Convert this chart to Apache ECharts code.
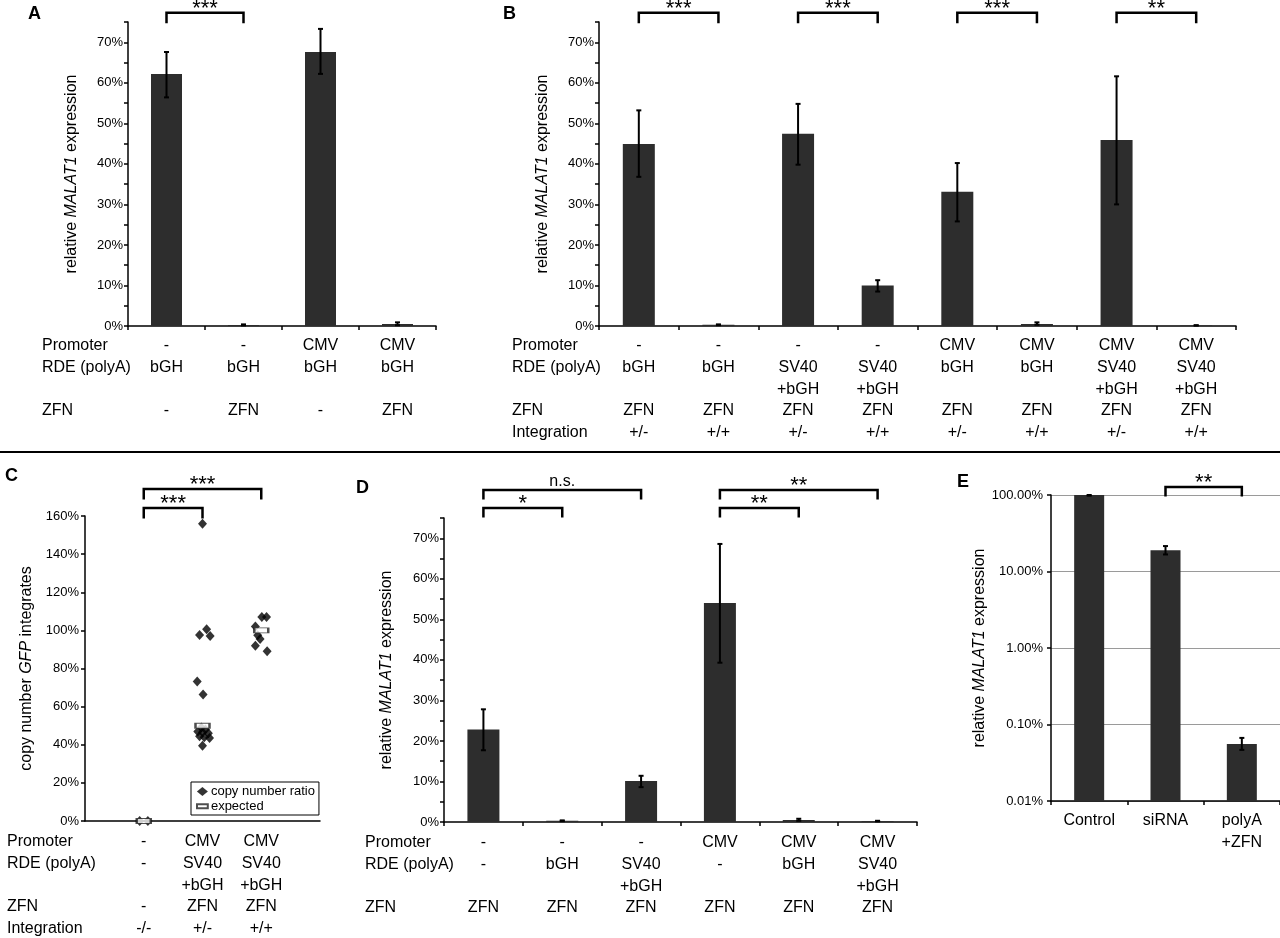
<!DOCTYPE html>
<html>
<head>
<meta charset="utf-8">
<title>MALAT1 polyA + ZFN</title>
<script src="https://cdn.jsdelivr.net/npm/echarts@6/dist/echarts.min.js"></script>
<style>
    html, body { margin: 0; padding: 0; background: #fff; }
    #main { width: 1280px; height: 938px; }
</style>
</head>
<body>
<div id="main"></div>
<script>
var FONT = 'Liberation Sans, Arial, sans-serif';
var BAR = '#2d2d2d';
var LH = 21.7; // table row height

// ---- panel A ----
var promoterA = ['-', '-', 'CMV', 'CMV'];
var rdeA = ['bGH', 'bGH', 'bGH', 'bGH'];
var zfnA = ['-', 'ZFN', '-', 'ZFN'];
var valueA = [62.2, 0.25, 67.6, 0.5];
var errLowA = [56.4, 0.15, 62.2, 0.2];
var errHighA = [67.6, 0.4, 73.3, 0.9];
var sigPairsA = [[0, 1], [2, 3]];
var sigTextA = ['***', '***'];

// ---- panel B ----
var promoterB = ['-', '-', '-', '-', 'CMV', 'CMV', 'CMV', 'CMV'];
var rdeB = ['bGH', 'bGH', 'SV40\n+bGH', 'SV40\n+bGH', 'bGH', 'bGH', 'SV40\n+bGH', 'SV40\n+bGH'];
var zfnB = ['ZFN', 'ZFN', 'ZFN', 'ZFN', 'ZFN', 'ZFN', 'ZFN', 'ZFN'];
var integrationB = ['+/-', '+/+', '+/-', '+/+', '+/-', '+/+', '+/-', '+/+'];
var valueB = [44.9, 0.3, 47.4, 10.0, 33.1, 0.5, 45.9, 0.15];
var errLowB = [36.8, 0.2, 39.8, 8.5, 25.8, 0.3, 30.0, 0.1];
var errHighB = [53.2, 0.4, 54.8, 11.3, 40.2, 0.9, 61.6, 0.2];
var sigPairsB = [[0, 1], [2, 3], [4, 5], [6, 7]];
var sigTextB = ['***', '***', '***', '**'];

// ---- panel C ----
var promoterC = ['-', 'CMV', 'CMV'];
var rdeC = ['-', 'SV40\n+bGH', 'SV40\n+bGH'];
var zfnC = ['-', 'ZFN', 'ZFN'];
var integrationC = ['-/-', '+/-', '+/+'];
var ratioC = [
    [0.93, 0], [1.07, 0],
    [2.0, 156], [1.95, 97.6], [2.07, 100.6], [2.13, 97.1], [1.91, 73.2], [2.01, 66.4],
    [1.92, 47], [1.98, 49], [2.05, 48], [2.1, 46], [1.95, 44.5], [2.03, 44], [2.12, 43.5], [2.0, 46.5], [2.0, 39.5],
    [3.01, 107], [3.09, 107], [2.9, 102], [2.94, 97.5], [2.98, 95.5], [2.9, 92], [3.1, 89]
];
var expectedC = [[1, 0], [2, 50], [3, 100]];
var sigPairsC = [[1, 3], [1, 2]];
var sigTextC = ['***', '***'];

// ---- panel D ----
var promoterD = ['-', '-', '-', 'CMV', 'CMV', 'CMV'];
var rdeD = ['-', 'bGH', 'SV40\n+bGH', '-', 'bGH', 'SV40\n+bGH'];
var zfnD = ['ZFN', 'ZFN', 'ZFN', 'ZFN', 'ZFN', 'ZFN'];
var valueD = [22.8, 0.3, 10.1, 54.0, 0.5, 0.2];
var errLowD = [17.7, 0.2, 8.6, 39.3, 0.3, 0.15];
var errHighD = [27.8, 0.4, 11.4, 68.6, 0.8, 0.3];
var sigPairsD = [[0, 2], [0, 1], [3, 5], [3, 4]];
var sigTextD = ['n.s.', '*', '**', '**'];

// ---- panel E ----
var groupsE = ['Control', 'siRNA', 'polyA\n+ZFN'];
var valueE = [100, 19.0, 0.0558];
var errLowE = [98, 16.7, 0.0466];
var errHighE = [100, 21.5, 0.0668];
var sigPairsE = [[1, 2]];
var sigTextE = ['**'];

function tableLabels(promoter, rde, zfn, integ) {
    return promoter.map(function (p, i) {
        var r = rde[i].indexOf('\n') >= 0 ? rde[i] : rde[i] + '\n ';
        var s = p + '\n' + r + '\n' + zfn[i];
        if (integ) s += '\n' + integ[i];
        return s;
    });
}
var labelsA = tableLabels(promoterA, rdeA, zfnA);
var labelsB = tableLabels(promoterB, rdeB, zfnB, integrationB);
var labelsC = tableLabels(promoterC, rdeC, zfnC, integrationC);
var labelsD = tableLabels(promoterD, rdeD, zfnD);

function idx(n) { var a = []; for (var i = 0; i < n; i++) a.push(String(i)); return a; }

var axisLine = { show: true, lineStyle: { color: '#000', width: 1.5 } };
var axisTick = { show: true, length: 4, lineStyle: { color: '#000', width: 1.5 } };
var yName = '{n|relative }{i|MALAT1}{n| expression}';
var nameStyle = {
    fontSize: 16, fontFamily: FONT, color: '#000',
    rich: { n: { fontSize: 16, fontFamily: FONT, color: '#000' },
            i: { fontSize: 16, fontFamily: FONT, color: '#000', fontStyle: 'italic' } }
};

function catX(grid, n, labels, margin) {
    return {
        gridIndex: grid, type: 'category', data: idx(n),
        axisLine: axisLine, axisTick: axisTick,
        axisLabel: {
            interval: 0, margin: margin, fontSize: 16, lineHeight: LH, fontFamily: FONT, color: '#000',
            formatter: function (v, i) { return labels[i]; }
        }
    };
}
function pctY(grid, max, name, gap) {
    return {
        gridIndex: grid, type: 'value', min: 0, max: max, interval: 5,
        axisLine: axisLine, axisTick: axisTick, splitLine: { show: false },
        axisLabel: {
            margin: 5, fontSize: 13, fontFamily: FONT, color: '#000',
            formatter: function (v) { return Math.round(v) % 10 === 0 ? Math.round(v) + '%' : ''; }
        },
        name: name, nameLocation: 'middle', nameRotate: 90, nameGap: gap, nameTextStyle: nameStyle
    };
}
function barSeries(ax, data, w) {
    return { type: 'bar', xAxisIndex: ax, yAxisIndex: ax, data: data, barWidth: w,
             itemStyle: { color: BAR }, silent: true };
}
function errorSeries(ax, xs, lo, hi) {
    return {
        type: 'custom', xAxisIndex: ax, yAxisIndex: ax, silent: true, z: 5,
        data: lo.map(function (l, i) { return [xs ? xs[i] : i, l, hi[i]]; }),
        encode: { x: 0, y: [1, 2] },
        renderItem: function (params, api) {
            var a = api.coord([api.value(0), api.value(1)]);
            var b = api.coord([api.value(0), api.value(2)]);
            function st() { return { stroke: '#000', lineWidth: 2 }; }
            return { type: 'group', children: [
                { type: 'line', shape: { x1: a[0], y1: a[1], x2: b[0], y2: b[1] }, style: st() },
                { type: 'line', shape: { x1: a[0] - 2.5, y1: a[1], x2: a[0] + 2.5, y2: a[1] }, style: st() },
                { type: 'line', shape: { x1: b[0] - 2.5, y1: b[1], x2: b[0] + 2.5, y2: b[1] }, style: st() }
            ] };
        }
    };
}
// significance brackets above a panel; offsets = line position per level relative to grid top
function bracketSeries(ax, pairs, texts, yTop, offsets, leg) {
    return {
        type: 'custom', xAxisIndex: ax, yAxisIndex: ax, silent: true, clip: false, z: 6,
        data: pairs.map(function (p) { return [p[0], p[1], yTop]; }),
        encode: { x: [0, 1], y: 2 },
        renderItem: function (params, api) {
            var k = params.dataIndex;
            var a = api.coord([api.value(0), api.value(2)]);
            var b = api.coord([api.value(1), api.value(2)]);
            var y = a[1] + offsets[k];
            var t = texts[k];
            var stars = t.indexOf('*') >= 0;
            return { type: 'group', children: [
                { type: 'polyline', shape: { points: [[a[0], y + leg], [a[0], y], [b[0], y], [b[0], y + leg]] },
                  style: { stroke: '#000', lineWidth: 2.5, fill: null } },
                { type: 'text', style: { text: t, x: (a[0] + b[0]) / 2, y: stars ? y - 4 : y - 8,
                  align: 'center', verticalAlign: 'middle', fontSize: stars ? 22 : 16,
                  fontFamily: FONT, fill: '#000' } }
            ] };
        }
    };
}

function header(x, y, lines) {
    return { type: 'text', x: x, y: y, silent: true,
             style: { text: lines.join('\n'), fontSize: 16, fontFamily: FONT, lineHeight: LH, fill: '#000' } };
}
function letter(x, y, t) {
    return { type: 'text', x: x, y: y, silent: true,
             style: { text: t, fontSize: 18, fontWeight: 'bold', fontFamily: FONT, fill: '#000' } };
}

var option = {
    animation: false,
    backgroundColor: '#fff',
    grid: [
        { left: 128, top: 22, width: 308, height: 304, outerBoundsMode: 'none' },
        { left: 599, top: 22, width: 637, height: 304, outerBoundsMode: 'none' },
        { left: 85, top: 516, width: 235, height: 305, outerBoundsMode: 'none' },
        { left: 444, top: 518, width: 473, height: 304, outerBoundsMode: 'none' },
        { left: 1051, top: 495, width: 229, height: 306, outerBoundsMode: 'none' }
    ],
    legend: {
        data: [
            { name: 'copy number ratio', icon: 'diamond' },
            { name: 'expected', icon: 'path://M0,0M0,2.5h12v4.5h-12zM12,10' }
        ],
        left: 191, top: 782, orient: 'vertical', itemWidth: 11, itemHeight: 9, itemGap: 2,
        padding: [3, 4, 2, 5], borderColor: '#000', borderWidth: 1, selectedMode: false,
        textStyle: { fontSize: 13, fontFamily: FONT, color: '#000', padding: [0, 0, 0, -2] }
    },
    xAxis: [
        catX(0, 4, labelsA, 9),
        catX(1, 8, labelsB, 9),
        {
            gridIndex: 2, type: 'value', min: 0, max: 4, interval: 1,
            axisLine: axisLine, axisTick: { show: false }, splitLine: { show: false },
            axisLabel: {
                margin: 10, fontSize: 16, lineHeight: LH, fontFamily: FONT, color: '#000',
                formatter: function (v) { return labelsC[v - 1] || ''; }
            }
        },
        catX(3, 6, labelsD, 10),
        {
            gridIndex: 4, type: 'category', data: groupsE,
            axisLine: axisLine, axisTick: axisTick,
            axisLabel: { interval: 0, margin: 9, fontSize: 16, lineHeight: LH, fontFamily: FONT, color: '#000' }
        }
    ],
    yAxis: [
        pctY(0, 75, yName, 48),
        pctY(1, 75, yName, 48),
        {
            gridIndex: 2, type: 'value', min: 0, max: 160, interval: 20,
            axisLine: axisLine, axisTick: axisTick, splitLine: { show: false },
            axisLabel: { margin: 6, fontSize: 13, fontFamily: FONT, color: '#000', formatter: '{value}%' },
            name: '{n|copy number }{i|GFP}{n| integrates}', nameLocation: 'middle', nameRotate: 90,
            nameGap: 50, nameTextStyle: nameStyle
        },
        pctY(3, 75, yName, 49),
        {
            gridIndex: 4, type: 'log', logBase: 10, min: 0.01, max: 100,
            axisLine: axisLine, axisTick: axisTick,
            splitLine: { show: true, lineStyle: { color: '#9a9a9a', width: 1.2 } },
            axisLabel: { margin: 8, fontSize: 13, fontFamily: FONT, color: '#000',
                         formatter: function (v) { return v.toFixed(2) + '%'; } },
            name: yName, nameLocation: 'middle', nameRotate: 90, nameGap: 62, nameTextStyle: nameStyle
        }
    ],
    series: [
        barSeries(0, valueA, 31),
        errorSeries(0, null, errLowA, errHighA),
        bracketSeries(0, sigPairsA, sigTextA, 75, [-9.3], 10.5),

        barSeries(1, valueB, 32),
        errorSeries(1, null, errLowB, errHighB),
        bracketSeries(1, sigPairsB, sigTextB, 75, [-9.3, -9.3, -9.3, -9.3], 10.5),

        { name: 'copy number ratio', type: 'scatter', xAxisIndex: 2, yAxisIndex: 2, data: ratioC,
          symbol: 'diamond', symbolSize: [9, 10], itemStyle: { color: '#000' }, silent: true },
        { name: 'expected', type: 'scatter', xAxisIndex: 2, yAxisIndex: 2, data: expectedC,
          symbol: 'rect', symbolSize: [14, 5], z: 4,
          itemStyle: { color: '#fff', borderColor: '#222', borderWidth: 1.5 }, silent: true },
        bracketSeries(2, sigPairsC, sigTextC, 160, [-27, -8], 10.5),

        barSeries(3, valueD, 32),
        errorSeries(3, null, errLowD, errHighD),
        bracketSeries(3, sigPairsD, sigTextD, 75, [-28, -10, -28, -10], 9.5),

        {
            type: 'custom', xAxisIndex: 4, yAxisIndex: 4, silent: true,
            data: valueE.map(function (v, i) { return [i, v]; }),
            encode: { x: 0, y: 1 },
            renderItem: function (params, api) {
                var t = api.coord([api.value(0), api.value(1)]);
                var b = api.coord([api.value(0), 0.01]);
                return { type: 'rect', shape: { x: t[0] - 15, y: t[1], width: 30, height: b[1] - t[1] },
                         style: { fill: BAR } };
            }
        },
        errorSeries(4, null, errLowE, errHighE),
        bracketSeries(4, sigPairsE, sigTextE, 100, [-8], 9.5)
    ],
    graphic: [
        { type: 'line', silent: true, shape: { x1: 0, y1: 452, x2: 1280, y2: 452 },
          style: { stroke: '#000', lineWidth: 2 } },
        letter(28, 5, 'A'), letter(503, 5, 'B'), letter(5, 467, 'C'), letter(356, 479, 'D'), letter(957, 473, 'E'),
        header(42, 335, ['Promoter', 'RDE (polyA)', ' ', 'ZFN']),
        header(512, 335, ['Promoter', 'RDE (polyA)', ' ', 'ZFN', 'Integration']),
        header(7, 831, ['Promoter', 'RDE (polyA)', ' ', 'ZFN', 'Integration']),
        header(365, 832, ['Promoter', 'RDE (polyA)', ' ', 'ZFN'])
    ]
};

var myChart = echarts.init(document.getElementById('main'));
myChart.setOption(option);
</script>
</body>
</html>
